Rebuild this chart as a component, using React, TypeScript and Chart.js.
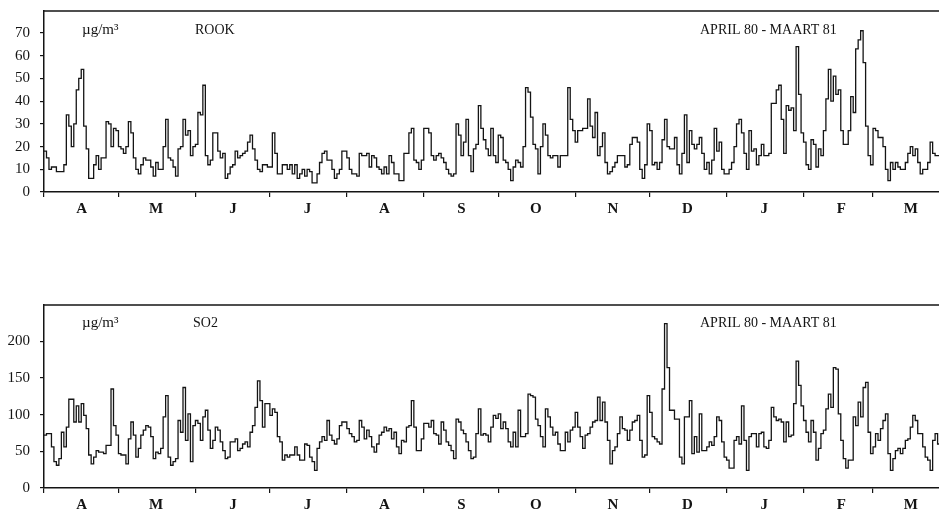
import { useEffect, useRef } from 'react';
import { Chart, registerables } from 'chart.js';

Chart.register(...registerables);

const MONTH_LABELS = ['A', 'M', 'J', 'J', 'A', 'S', 'O', 'N', 'D', 'J', 'F', 'M'];
const MONTH_STARTS = [0, 30, 61, 91, 122, 153, 183, 214, 244, 275, 306, 334, 365];
const ROOK_TICKS = [0, 10, 20, 30, 40, 50, 60, 70];
const SO2_TICKS = [0, 50, 100, 150, 200];
const UNIT = 'µg/m³';
const PERIOD = 'APRIL 80 - MAART 81';

const ROOK = [
  18, 15, 10, 11, 11, 9, 9, 9, 12, 34,
  29, 20, 30, 45, 50, 54, 29, 19, 6, 6,
  12, 16, 10, 15, 15, 31, 30, 20, 28, 27,
  20, 19, 17, 20, 31, 26, 15, 10, 8, 12,
  15, 14, 14, 11, 7, 13, 10, 10, 20, 32,
  15, 14, 11, 7, 19, 20, 32, 25, 27, 16,
  20, 21, 35, 34, 47, 16, 12, 14, 26, 26,
  18, 15, 17, 6, 8, 11, 12, 18, 15, 16,
  17, 18, 22, 25, 19, 14, 10, 9, 12, 12,
  11, 11, 26, 17, 8, 8, 12, 12, 10, 12,
  8, 12, 6, 8, 10, 7, 10, 9, 4, 4,
  8, 13, 17, 18, 14, 14, 10, 6, 8, 10,
  18, 18, 15, 10, 8, 8, 7, 17, 16, 16,
  17, 11, 16, 15, 11, 10, 8, 11, 8, 16,
  13, 8, 8, 5, 5, 17, 17, 26, 28, 14,
  13, 10, 14, 28, 28, 26, 16, 14, 16, 17,
  15, 13, 10, 8, 7, 8, 30, 25, 16, 22,
  32, 16, 9, 19, 21, 38, 28, 23, 19, 16,
  28, 16, 13, 25, 24, 14, 13, 10, 5, 11,
  14, 13, 11, 20, 46, 44, 33, 21, 19, 8,
  20, 30, 25, 16, 15, 16, 16, 11, 16, 16,
  16, 46, 32, 27, 22, 27, 27, 28, 28, 41,
  29, 24, 35, 16, 20, 26, 13, 8, 9, 11,
  13, 16, 16, 16, 11, 12, 21, 24, 24, 22,
  10, 6, 12, 30, 27, 12, 13, 10, 13, 23,
  32, 20, 19, 19, 24, 12, 8, 17, 34, 13,
  27, 21, 19, 21, 24, 17, 10, 13, 8, 14,
  28, 18, 22, 10, 8, 8, 10, 13, 20, 30,
  32, 26, 17, 10, 27, 18, 19, 12, 16, 21,
  16, 16, 17, 39, 39, 45, 47, 32, 17, 38,
  36, 37, 27, 64, 43, 26, 22, 12, 10, 23,
  21, 11, 19, 16, 27, 41, 54, 40, 51, 43,
  45, 27, 21, 21, 27, 42, 35, 63, 67, 71,
  57, 29, 16, 12, 28, 27, 24, 24, 20, 10,
  5, 13, 10, 13, 11, 10, 10, 13, 17, 20,
  16, 19, 13, 8, 10, 10, 13, 22, 17, 16,
  16, 15, 17, 14, 16,
];

const SO2 = [
  72, 74, 74, 56, 36, 31, 40, 76, 56, 83,
  121, 121, 90, 112, 90, 115, 99, 81, 45, 33,
  42, 51, 49, 49, 47, 58, 58, 135, 85, 72,
  47, 45, 45, 33, 67, 90, 72, 42, 54, 72,
  79, 85, 83, 70, 40, 49, 47, 54, 97, 126,
  42, 31, 36, 40, 92, 76, 137, 65, 101, 36,
  85, 92, 88, 65, 97, 106, 79, 54, 65, 83,
  79, 63, 51, 40, 42, 63, 63, 67, 51, 54,
  60, 63, 56, 76, 85, 110, 146, 119, 83, 115,
  115, 99, 108, 103, 70, 63, 38, 45, 42, 45,
  45, 56, 45, 38, 38, 60, 58, 42, 36, 24,
  54, 63, 70, 65, 92, 72, 65, 60, 67, 85,
  90, 90, 81, 74, 70, 63, 65, 92, 83, 67,
  79, 70, 56, 49, 60, 72, 76, 83, 78, 81,
  67, 76, 56, 47, 65, 63, 83, 85, 119, 83,
  51, 51, 67, 88, 88, 83, 92, 74, 72, 60,
  90, 79, 63, 58, 51, 40, 94, 90, 79, 74,
  63, 51, 40, 42, 74, 108, 72, 74, 72, 63,
  83, 99, 95, 101, 81, 90, 81, 63, 56, 76,
  56, 106, 70, 70, 74, 128, 126, 124, 94, 85,
  70, 56, 108, 97, 83, 72, 76, 60, 51, 51,
  76, 63, 79, 83, 103, 83, 70, 54, 72, 74,
  83, 90, 92, 124, 92, 117, 90, 65, 33, 51,
  56, 74, 97, 81, 79, 65, 79, 90, 92, 99,
  65, 42, 45, 126, 103, 70, 67, 63, 60, 135,
  224, 164, 106, 106, 94, 94, 42, 33, 97, 97,
  119, 47, 70, 49, 101, 51, 51, 56, 63, 58,
  70, 97, 92, 63, 42, 38, 27, 27, 65, 70,
  60, 112, 65, 24, 70, 74, 74, 56, 74, 76,
  56, 54, 65, 110, 97, 92, 94, 90, 63, 90,
  70, 72, 115, 173, 140, 112, 92, 76, 63, 92,
  76, 38, 54, 74, 79, 108, 128, 110, 164, 162,
  101, 65, 40, 27, 38, 38, 97, 85, 117, 97,
  137, 144, 76, 47, 56, 74, 65, 81, 92, 101,
  47, 24, 40, 51, 54, 47, 54, 65, 67, 83,
  99, 92, 74, 74, 56, 42, 38, 24, 65, 74,
  60, 49, 55, 60, 52,
];

const SERIF = '"Liberation Serif", "Times New Roman", serif';
const INK = '#141414';

type PanelProps = {
  values: number[];
  yTicks: number[];
  yMax: number;
  name: string;
  top: number;
  padTop: number;
  height: number;
  labelY: number;
  nameX: number;
};

function Panel({ values, yTicks, yMax, name, top, padTop, height, labelY, nameX }: PanelProps) {
  const ref = useRef<HTMLCanvasElement | null>(null);

  useEffect(() => {
    if (!ref.current) return;
    const points = values.map((v, i) => ({ x: i, y: v }));
    points.push({ x: values.length, y: values[values.length - 1] });

    const textPlugin = {
      id: 'panelText',
      afterDraw(chart: any) {
        const { ctx, chartArea } = chart;
        ctx.save();
        ctx.strokeStyle = INK;
        ctx.lineWidth = 1.5;
        ctx.beginPath();
        ctx.moveTo(chartArea.left, chartArea.top);
        ctx.lineTo(chartArea.right, chartArea.top);
        ctx.stroke();
        ctx.fillStyle = INK;
        ctx.textBaseline = 'middle';
        ctx.textAlign = 'left';
        ctx.font = `15px ${SERIF}`;
        ctx.fillText(UNIT, 82, labelY);
        ctx.font = `14px ${SERIF}`;
        ctx.fillText(name, nameX, labelY);
        ctx.fillText(PERIOD, 700, labelY);
        ctx.restore();
      },
    };

    const chart = new Chart(ref.current, {
      type: 'line',
      data: {
        datasets: [
          {
            data: points,
            borderColor: INK,
            borderWidth: 1.3,
            pointRadius: 0,
            stepped: true,
            fill: false,
            tension: 0,
          },
        ],
      },
      options: {
        responsive: false,
        animation: false,
        events: [],
        layout: { padding: { top: padTop, right: 11, left: 0, bottom: 0 } },
        plugins: { legend: { display: false }, tooltip: { enabled: false } },
        scales: {
          x: {
            type: 'linear',
            min: 0,
            max: 365,
            afterBuildTicks: (s: any) => {
              s.ticks = MONTH_STARTS.map((v) => ({ value: v }));
            },
            afterFit: (s: any) => {
              s.height = 40;
              s.paddingLeft = 0;
              s.paddingRight = 0;
              s.paddingTop = 0;
              s.paddingBottom = 0;
            },
            ticks: {
              autoSkip: false,
              maxRotation: 0,
              padding: 3,
              labelOffset: 37.7,
              color: INK,
              font: { family: SERIF, size: 15, weight: 'bold' },
              callback: (_v: any, i: number) => MONTH_LABELS[i] ?? '',
            },
            grid: {
              display: true,
              drawOnChartArea: false,
              drawTicks: true,
              tickLength: 5,
              color: INK,
              lineWidth: 1.2,
            },
            border: { display: true, color: INK, width: 1.5 },
          },
          y: {
            type: 'linear',
            min: 0,
            max: yMax,
            afterBuildTicks: (s: any) => {
              s.ticks = yTicks.map((v) => ({ value: v }));
            },
            afterFit: (s: any) => {
              s.width = 44;
              s.paddingTop = 0;
              s.paddingBottom = 0;
              s.paddingLeft = 0;
              s.paddingRight = 0;
            },
            ticks: {
              padding: 10,
              color: INK,
              font: { family: SERIF, size: 15 },
            },
            grid: {
              display: true,
              drawOnChartArea: false,
              drawTicks: true,
              tickLength: 4,
              color: INK,
              lineWidth: 1.2,
            },
            border: { display: true, color: INK, width: 1.5 },
          },
        },
      },
      plugins: [textPlugin],
    } as any);

    return () => chart.destroy();
  }, [values, yTicks, yMax, name, padTop, labelY, nameX]);

  return (
    <canvas
      ref={ref}
      width={961}
      height={height}
      style={{ position: 'absolute', left: 0, top, width: 961, height }}
    />
  );
}

export default function App() {
  return (
    <div
      style={{
        position: 'absolute',
        left: 0,
        top: 0,
        width: 939,
        height: 509,
        overflow: 'hidden',
        background: '#ffffff',
      }}
    >
      <Panel values={ROOK} yTicks={ROOK_TICKS} yMax={79.7} name="ROOK" top={0} padTop={11} height={232} labelY={30} nameX={195} />
      <Panel values={SO2} yTicks={SO2_TICKS} yMax={249.5} name="SO2" top={290} padTop={15} height={238} labelY={33} nameX={193} />
    </div>
  );
}
